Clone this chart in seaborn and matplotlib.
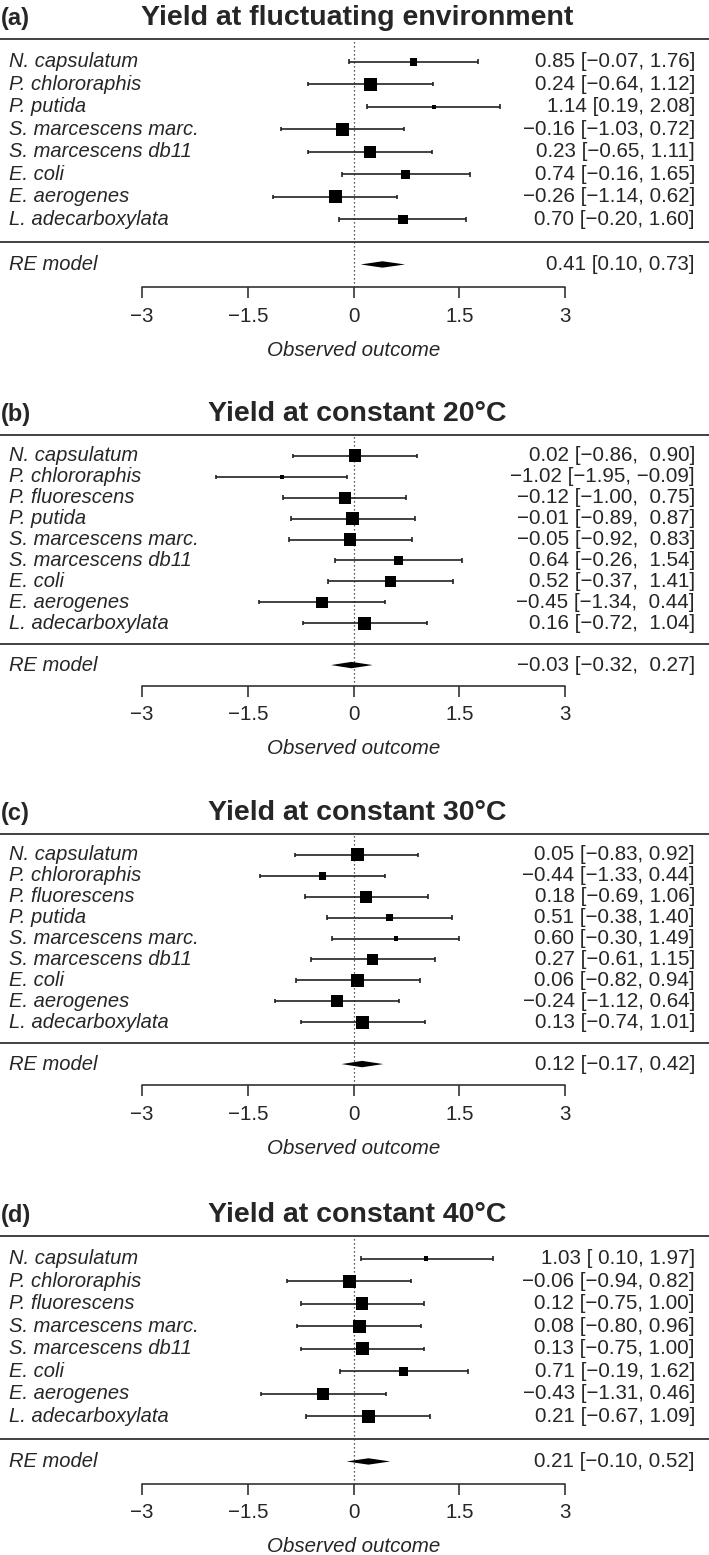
import numpy as np
import matplotlib
matplotlib.use("Agg")
import matplotlib.pyplot as plt
import seaborn as sns

# ---- data ----
titles = ["Yield at fluctuating environment", "Yield at constant 20°C",
          "Yield at constant 30°C", "Yield at constant 40°C"]
tags = ["(a)", "(b)", "(c)", "(d)"]

species_a = ["N. capsulatum", "P. chlororaphis", "P. putida", "S. marcescens marc.",
             "S. marcescens db11", "E. coli", "E. aerogenes", "L. adecarboxylata"]
est_a = [0.85, 0.24, 1.14, -0.16, 0.23, 0.74, -0.26, 0.70]
lo_a = [-0.07, -0.64, 0.19, -1.03, -0.65, -0.16, -1.14, -0.20]
hi_a = [1.76, 1.12, 2.08, 0.72, 1.11, 1.65, 0.62, 1.60]
wt_a = [9.8, 15.6, 5.8, 15.6, 14.7, 11.4, 15.6, 11.4]
re_a = [0.41, 0.10, 0.73]

species_b = ["N. capsulatum", "P. chlororaphis", "P. fluorescens", "P. putida",
             "S. marcescens marc.", "S. marcescens db11", "E. coli", "E. aerogenes",
             "L. adecarboxylata"]
est_b = [0.02, -1.02, -0.12, -0.01, -0.05, 0.64, 0.52, -0.45, 0.16]
lo_b = [-0.86, -1.95, -1.00, -0.89, -0.92, -0.26, -0.37, -1.34, -0.72]
hi_b = [0.90, -0.09, 0.75, 0.87, 0.83, 1.54, 1.41, 0.44, 1.04]
wt_b = [12.9, 4.1, 12.2, 12.9, 12.9, 9.5, 10.9, 11.5, 12.9]
re_b = [-0.03, -0.32, 0.27]

species_c = ["N. capsulatum", "P. chlororaphis", "P. fluorescens", "P. putida",
             "S. marcescens marc.", "S. marcescens db11", "E. coli", "E. aerogenes",
             "L. adecarboxylata"]
est_c = [0.05, -0.44, 0.18, 0.51, 0.60, 0.27, 0.06, -0.24, 0.13]
lo_c = [-0.83, -1.33, -0.69, -0.38, -0.30, -0.61, -0.82, -1.12, -0.74]
hi_c = [0.92, 0.44, 1.06, 1.40, 1.49, 1.15, 0.94, 0.64, 1.01]
wt_c = [13.7, 8.6, 12.9, 7.2, 5.1, 12.2, 13.7, 12.9, 13.7]
re_c = [0.12, -0.17, 0.42]

species_d = ["N. capsulatum", "P. chlororaphis", "P. fluorescens", "S. marcescens marc.",
             "S. marcescens db11", "E. coli", "E. aerogenes", "L. adecarboxylata"]
est_d = [1.03, -0.06, 0.12, 0.08, 0.13, 0.71, -0.43, 0.21]
lo_d = [0.10, -0.94, -0.75, -0.80, -0.75, -0.19, -1.31, -0.67]
hi_d = [1.97, 0.82, 1.00, 0.96, 1.00, 1.62, 0.46, 1.09]
wt_d = [4.5, 14.6, 14.6, 14.6, 14.6, 9.8, 13.5, 14.0]
re_d = [0.21, -0.10, 0.52]

# padding of the lower / upper CI column as printed
pads = [(False, False), (False, True), (False, False), (True, False)]

xticks = [-3, -1.5, 0, 1.5, 3]
xtick_labels = ["\u22123", "\u22121.5", "0", "1.5", "3"]

panels = [
    (species_a, est_a, lo_a, hi_a, wt_a, re_a),
    (species_b, est_b, lo_b, hi_b, wt_b, re_b),
    (species_c, est_c, lo_c, hi_c, wt_c, re_c),
    (species_d, est_d, lo_d, hi_d, wt_d, re_d),
]

sns.set_theme(style="white")
plt.rcParams["font.family"] = ["Liberation Sans", "DejaVu Sans"]

W, H = 709, 1555
fig = plt.figure(figsize=(W / 100, H / 100), dpi=100)

px_unit = 70.53          # pixels per unit on the x scale
x0_px = 353.6            # pixel position of x = 0
xlim = (-x0_px / px_unit, (W - x0_px) / px_unit)
ax_h = 293               # axes height in px
ink = "#222222"


def num(v, pad=False):
    s = f"{abs(v):.2f}"
    if v < 0:
        return "\u2212" + s
    return (" " + s) if pad else s


def ci_text(e, l, h, pad):
    return f"{num(e)} [{num(l, pad[0])}, {num(h, pad[1])}]"


for i, (sp, est, lo, hi, wt, re) in enumerate(panels):
    k = len(sp)
    axis_px = 287 + 399 * i
    ax = fig.add_axes([0, 1 - axis_px / H, 1, ax_h / H])
    ax.set_xlim(*xlim)
    ax.set_ylim(-2, k + 3)
    ax.axis("off")
    unit = ax_h / (k + 5)  # px per row
    rows = np.arange(k, 0, -1)

    # reference line and separators
    ax.vlines(0, -2, k + 1, colors=ink, linestyles=(0, (1, 2.2)), lw=0.9)
    ax.axhline(k + 1, color="#333333", lw=1.3)
    ax.axhline(0, color="#333333", lw=1.3)

    # study CIs
    tick_h = 2.2 / unit
    ax.hlines(rows, lo, hi, colors=ink, lw=1.2)
    ax.vlines(lo, rows - tick_h, rows + tick_h, colors=ink, lw=1.2)
    ax.vlines(hi, rows - tick_h, rows + tick_h, colors=ink, lw=1.2)

    # squares sized by weight
    w = np.array(wt)
    side_px = 4.3 + 8.5 * (w - w.min()) / (w.max() - w.min())
    area = (side_px * 0.72) ** 2
    sns.scatterplot(x=est, y=rows, marker="s", s=area, color="black",
                    linewidth=0, ax=ax, legend=False, zorder=3)

    # summary diamond
    dh = 3.2 / unit
    ax.fill([re[1], re[0], re[2], re[0]], [-1, -1 + dh, -1, -1 - dh],
            color="black", lw=0, zorder=3)

    # labels
    lx = 9 / px_unit + xlim[0]
    rx = 695 / px_unit + xlim[0]
    for r, name, e, l, h in zip(rows, sp, est, lo, hi):
        ax.text(lx, r, name, style="italic", fontsize=14.5, va="center", ha="left")
        ax.text(rx, r, ci_text(e, l, h, pads[i]), fontsize=14.8, va="center", ha="right")
    ax.text(lx, -1, "RE model", style="italic", fontsize=14.5, va="center", ha="left")
    ax.text(rx, -1, ci_text(re[0], re[1], re[2], pads[i]), fontsize=14.8,
            va="center", ha="right")

    # x axis
    ax.plot([xticks[0], xticks[-1]], [-2, -2], color="#333333", lw=1.2, clip_on=False)
    tl = 11 / unit
    ax.vlines(xticks, -2 - tl, -2, colors="#333333", lw=1.2, clip_on=False)
    for t, lab in zip(xticks, xtick_labels):
        ax.text(t, -2 - 29 / unit, lab, fontsize=14.8, ha="center", va="center",
                clip_on=False)
    ax.text(0, -2 - 63 / unit, "Observed outcome", style="italic", fontsize=14.8,
            ha="center", va="center", clip_on=False)

    # titles
    ty = k + 1 + 14 / unit
    ax.text(0.05, ty, titles[i], fontsize=20.5, fontweight="bold",
            ha="center", va="baseline", clip_on=False)
    ax.text(xlim[0] + 1 / px_unit, ty, tags[i], fontsize=17, fontweight="bold",
            ha="left", va="baseline", clip_on=False)

fig.savefig("out.png", dpi=100)
